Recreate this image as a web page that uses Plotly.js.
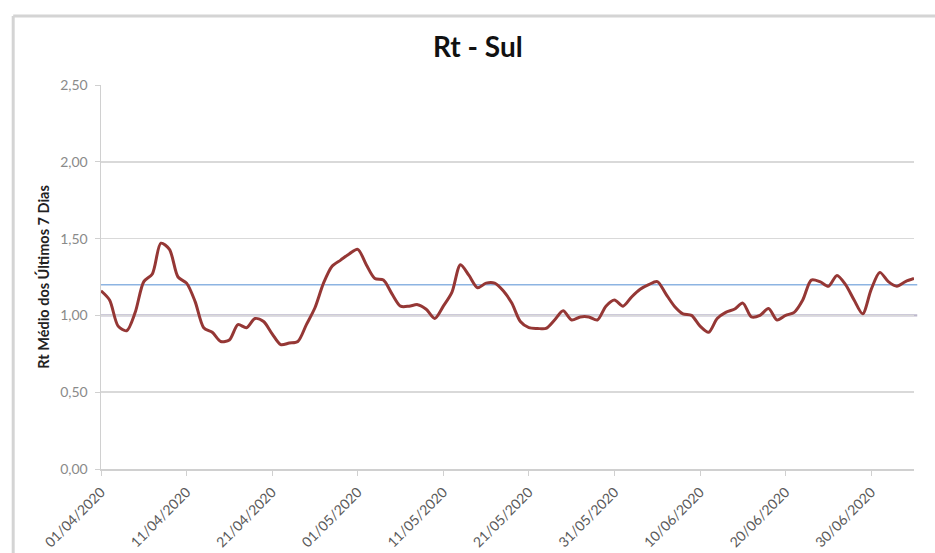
<!DOCTYPE html>
<html>
<head>
<meta charset="utf-8">
<script src="https://cdn.plot.ly/plotly-3.0.1.min.js"></script>
<style>html,body{margin:0;padding:0;background:#fff;}#chart{width:935px;height:553px;}</style>
</head>
<body>
<div id="chart"></div>
<script>
// Data: Rt médio dos últimos 7 dias, região Sul, a partir de 01/04/2020
var startDate = '2020-04-01';
var rtValues = [
  1.16, 1.10, 0.93, 0.90, 1.02, 1.22, 1.27, 1.47, 1.43, 1.25,
  1.21, 1.09, 0.92, 0.89, 0.83, 0.84, 0.94, 0.92, 0.98, 0.96,
  0.88, 0.81, 0.82, 0.83, 0.94, 1.05, 1.21, 1.32, 1.36, 1.40,
  1.43, 1.33, 1.24, 1.23, 1.14, 1.06, 1.06, 1.07, 1.04, 0.98,
  1.06, 1.15, 1.33, 1.26, 1.18, 1.21, 1.21, 1.16, 1.08, 0.96,
  0.92, 0.915, 0.915, 0.97, 1.03, 0.97, 0.99, 0.99, 0.97, 1.06,
  1.10, 1.06, 1.12, 1.17, 1.20, 1.22, 1.14, 1.06, 1.01, 1.00,
  0.93, 0.89, 0.98, 1.02, 1.04, 1.08, 0.99, 1.00, 1.045, 0.97,
  1.00, 1.02, 1.10, 1.23, 1.22, 1.19, 1.26, 1.20, 1.10, 1.01,
  1.17, 1.28, 1.22, 1.19, 1.22, 1.24
];
var refLineLow = 1.00;
var refLineHigh = 1.20;
var yTickVals = [0, 0.5, 1.0, 1.5, 2.0, 2.5];
var xTickLabels = ['01/04/2020','11/04/2020','21/04/2020','01/05/2020','11/05/2020','21/05/2020','31/05/2020','10/06/2020','20/06/2020','30/06/2020'];

function toISO(lbl){ var p = lbl.split('/'); return p[2]+'-'+p[1]+'-'+p[0]; }
var xTickVals = xTickLabels.map(toISO);

var dates = [];
var d0 = new Date(startDate + 'T00:00:00Z');
for (var i = 0; i < rtValues.length; i++) {
  var d = new Date(d0.getTime() + i * 86400000);
  dates.push(d.toISOString().slice(0,10));
}

var trace = {
  x: dates, y: rtValues, type: 'scatter', mode: 'lines',
  line: {color: '#953735', width: 3, shape: 'spline', smoothing: 0.8},
  hoverinfo: 'x+y'
};

var fontFam = 'Lato, "Open Sans", sans-serif';
var frameColor = '#d4d4d4';
var layout = {
  width: 935, height: 553,
  margin: {l: 101, r: 21, t: 85, b: 84},
  paper_bgcolor: '#ffffff', plot_bgcolor: '#ffffff',
  separators: ',.',
  showlegend: false,
  title: {
    text: '<b>Rt - Sul</b>',
    font: {family: fontFam, size: 28, color: '#111111'},
    x: 0.511, xref: 'container', xanchor: 'center',
    y: 0.915, yref: 'container', yanchor: 'middle'
  },
  xaxis: {
    type: 'date',
    range: [startDate, dates[dates.length - 1]],
    tickvals: xTickVals, ticktext: xTickLabels,
    tickangle: -45,
    tickfont: {family: fontFam, size: 14, color: '#5a5a5a'},
    showgrid: false, zeroline: false,
    showline: true, linecolor: '#d0d0d0', linewidth: 1.5,
    ticks: 'outside', ticklen: 5, tickcolor: '#d0d0d0', tickwidth: 1,
    ticklabelstandoff: 3
  },
  yaxis: {
    range: [0, 2.5],
    tickvals: yTickVals, tickformat: '.2f',
    tickfont: {family: fontFam, size: 14, color: '#8a8a8a'},
    showgrid: true, gridcolor: '#d9d9d9', gridwidth: 1.5,
    zeroline: false,
    showline: true, linecolor: '#d0d0d0', linewidth: 1.5,
    ticks: 'outside', ticklen: 5, tickcolor: '#d0d0d0', tickwidth: 1,
    ticklabelstandoff: 4,
    title: {
      text: '<b>Rt Médio dos Últimos 7 Dias</b>',
      font: {family: fontFam, size: 14.5, color: '#222222'},
      standoff: 7
    }
  },
  shapes: [
    {type: 'line', xref: 'paper', yref: 'y', x0: 0, x1: 1.004, y0: refLineLow, y1: refLineLow,
     line: {color: '#bdb8cc', width: 2.2}, layer: 'below'},
    {type: 'line', xref: 'paper', yref: 'y', x0: 0, x1: 1.004, y0: refLineHigh, y1: refLineHigh,
     line: {color: '#8db4e2', width: 1.6}, layer: 'below'},
    {type: 'line', xref: 'paper', yref: 'paper', x0: -0.108, x1: -0.108, y0: -0.25, y1: 1.18,
     line: {color: frameColor, width: 3}},
    {type: 'line', xref: 'paper', yref: 'paper', x0: -0.108, x1: 1.05, y0: 1.18, y1: 1.18,
     line: {color: frameColor, width: 3}}
  ]
};

Plotly.newPlot('chart', [trace], layout, {displayModeBar: false, staticPlot: true});
</script>
</body>
</html>
